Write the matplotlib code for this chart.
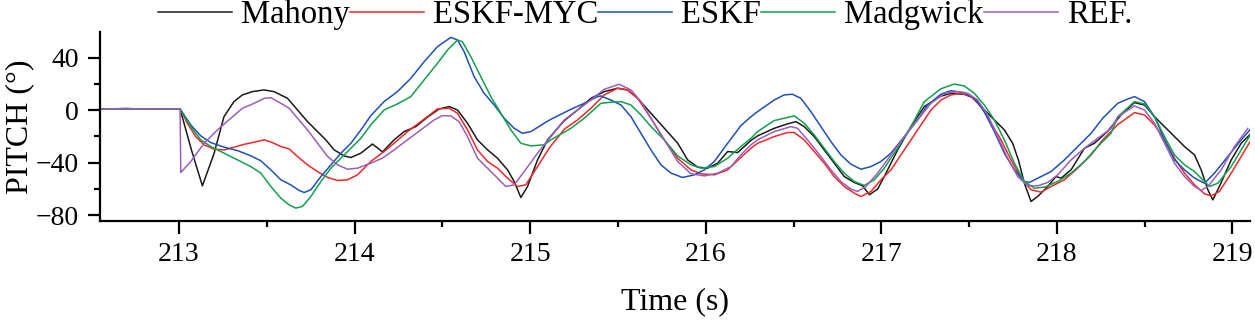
import matplotlib
matplotlib.use('Agg')
import matplotlib.pyplot as plt
from matplotlib.ticker import MultipleLocator

# flat start (all filters agree before the motion begins)
t_flat = [212.55, 212.7, 212.85, 213.0]
v_flat = [1.0, 1.2, 0.9, 1.0]

t_mahony = [213.006, 213.07, 213.133, 213.2, 213.256, 213.313, 213.361, 213.418, 213.484, 213.541,
            213.618, 213.675, 213.732, 213.789, 213.836, 213.883, 213.94, 213.978, 214.035, 214.102,
            214.159, 214.225, 214.282, 214.349, 214.415, 214.482, 214.539, 214.586, 214.643, 214.7,
            214.757, 214.814, 214.871, 214.909, 214.947, 214.985, 215.042, 215.099, 215.194, 215.27,
            215.346, 215.422, 215.498, 215.555, 215.612, 215.688, 215.764, 215.84, 215.897, 215.954,
            216.011, 216.068, 216.125, 216.182, 216.258, 216.295, 216.39, 216.466, 216.514, 216.561,
            216.618, 216.675, 216.732, 216.789, 216.846, 216.894, 216.932, 216.979, 217.027, 217.093,
            217.169, 217.245, 217.34, 217.397, 217.473, 217.53, 217.587, 217.644, 217.701, 217.748,
            217.781, 217.815, 217.853, 217.891, 217.948, 217.995, 218.024, 218.081, 218.157, 218.214,
            218.29, 218.366, 218.442, 218.499, 218.556, 218.613, 218.67, 218.727, 218.784, 218.822,
            218.86, 218.888, 218.926, 218.993, 219.05, 219.107]
v_mahony = [1.0, -30.0, -57.7, -32.8, -4.9, 6.6, 11.7, 14.2, 15.5, 14.2,
            9.1, 0.2, -8.7, -16.3, -22.6, -30.2, -34.8, -36.1, -32.8, -25.8,
            -31.8, -22.6, -16.3, -12.5, -5.3, 1.0, 2.8, 0.2, -9.9, -22.6,
            -30.2, -36.6, -45.5, -54.4, -66.6, -58.2, -37.9, -22.6, -8.0, 0.2,
            9.1, 14.2, 16.8, 15.5, 9.1, -2.3, -13.7, -25.1, -37.9, -43.4,
            -44.2, -40.4, -31.5, -32.3, -23.0, -19.6, -13.8, -10.4, -8.7, -12.5,
            -20.1, -30.3, -40.4, -50.6, -55.1, -57.7, -64.5, -60.2, -48.0, -30.3,
            -12.5, 2.8, 10.8, 12.9, 12.2, 9.1, 0.2, -7.4, -15.0, -25.2,
            -37.9, -55.7, -69.6, -65.8, -58.2, -50.6, -51.8, -45.5, -29.0, -25.2,
            -16.0, -3.5, 5.8, 4.0, -4.9, -12.5, -20.1, -27.7, -34.1, -45.5,
            -60.7, -68.4, -58.2, -37.9, -25.2, -17.6]

t_myc = [213.006, 213.048, 213.095, 213.143, 213.2, 213.257, 213.314, 213.371, 213.428, 213.485,
         213.532, 213.58, 213.627, 213.675, 213.732, 213.789, 213.846, 213.903, 213.96, 214.017,
         214.092, 214.168, 214.225, 214.301, 214.377, 214.472, 214.538, 214.586, 214.643, 214.7,
         214.757, 214.814, 214.871, 214.928, 214.975, 215.042, 215.108, 215.194, 215.27, 215.346,
         215.422, 215.498, 215.555, 215.612, 215.688, 215.764, 215.84, 215.916, 215.973, 216.049,
         216.125, 216.2, 216.258, 216.295, 216.39, 216.466, 216.504, 216.561, 216.618, 216.675,
         216.732, 216.789, 216.846, 216.884, 216.941, 216.998, 217.055, 217.131, 217.207, 217.283,
         217.34, 217.397, 217.454, 217.511, 217.568, 217.625, 217.682, 217.739, 217.796, 217.853,
         217.91, 217.967, 218.043, 218.119, 218.195, 218.262, 218.347, 218.442, 218.499, 218.556,
         218.613, 218.67, 218.727, 218.784, 218.841, 218.879, 218.926, 218.993, 219.05, 219.107]
v_myc = [1.0, -10.0, -20.1, -26.4, -29.7, -30.3, -28.2, -26.0, -24.4, -22.6,
         -24.7, -27.7, -29.5, -35.3, -41.7, -46.8, -51.3, -53.6, -53.1, -49.3,
         -39.1, -31.5, -25.2, -16.3, -8.7, 1.0, 1.5, -2.3, -15.0, -30.3,
         -39.1, -44.2, -51.8, -58.2, -56.9, -43.0, -29.0, -14.5, -7.4, 1.5,
         11.7, 16.8, 15.5, 9.1, -6.1, -22.6, -36.6, -45.5, -48.5, -49.3,
         -45.5, -36.0, -29.0, -25.2, -20.1, -17.0, -17.0, -22.6, -31.5, -40.4,
         -50.6, -58.2, -63.3, -65.8, -62.0, -53.1, -45.5, -30.3, -15.0, 0.2,
         7.8, 11.7, 12.9, 10.4, 2.8, -9.9, -22.6, -37.9, -51.8, -60.7,
         -62.5, -58.2, -53.1, -44.2, -34.1, -22.5, -11.0, -1.8, -3.6, -11.2,
         -22.6, -36.6, -48.0, -56.9, -63.8, -65.3, -62.0, -48.0, -35.3, -22.6]

t_eskf = [213.006, 213.067, 213.124, 213.181, 213.257, 213.333, 213.409, 213.466, 213.523, 213.58,
          213.637, 213.684, 213.713, 213.751, 213.808, 213.865, 213.922, 213.979, 214.036, 214.092,
          214.168, 214.244, 214.32, 214.396, 214.472, 214.548, 214.586, 214.624, 214.681, 214.738,
          214.795, 214.852, 214.909, 214.956, 215.004, 215.08, 215.118, 215.232, 215.308, 215.384,
          215.403, 215.46, 215.517, 215.574, 215.631, 215.688, 215.745, 215.802, 215.868, 215.935,
          215.992, 216.049, 216.125, 216.2, 216.258, 216.295, 216.39, 216.447, 216.494, 216.542,
          216.599, 216.656, 216.713, 216.77, 216.827, 216.884, 216.941, 216.998, 217.055, 217.131,
          217.207, 217.264, 217.34, 217.397, 217.473, 217.53, 217.587, 217.644, 217.701, 217.758,
          217.815, 217.843, 217.91, 217.967, 218.043, 218.119, 218.195, 218.262, 218.347, 218.404,
          218.442, 218.499, 218.556, 218.613, 218.67, 218.727, 218.784, 218.841, 218.898, 218.974,
          219.05, 219.107]
v_eskf = [1.0, -11.2, -19.6, -24.7, -28.2, -30.8, -34.8, -38.6, -45.5, -53.1,
          -57.0, -61.2, -62.8, -60.7, -50.6, -41.7, -32.8, -25.2, -15.0, -4.2,
          6.6, 14.2, 24.3, 37.0, 48.5, 55.6, 53.6, 44.7, 25.6, 12.9,
          4.0, -6.1, -13.8, -17.6, -16.3, -9.9, -6.9, 0.7, 5.3, 10.4,
          10.9, 7.8, 4.0, -4.9, -17.6, -30.3, -41.7, -48.0, -51.3, -49.3,
          -45.5, -39.1, -25.2, -11.8, -4.9, -1.1, 7.8, 11.7, 12.2, 9.1,
          -1.1, -12.5, -23.9, -34.1, -41.2, -45.0, -43.0, -39.1, -32.8, -20.1,
          -7.4, 4.0, 12.3, 14.9, 13.4, 9.1, -1.1, -16.3, -32.8, -45.5,
          -54.4, -55.1, -50.6, -46.8, -37.9, -27.7, -17.6, -6.0, 5.3, 8.6,
          10.4, 6.6, -4.9, -22.6, -37.9, -45.5, -51.8, -55.7, -48.0, -35.3,
          -22.6, -13.8]

t_madg = [213.006, 213.067, 213.124, 213.181, 213.257, 213.333, 213.409, 213.466, 213.523, 213.58,
          213.627, 213.665, 213.703, 213.751, 213.808, 213.865, 213.922, 213.979, 214.036, 214.092,
          214.168, 214.244, 214.32, 214.396, 214.472, 214.529, 214.586, 214.614, 214.662, 214.719,
          214.776, 214.833, 214.89, 214.947, 215.004, 215.08, 215.118, 215.232, 215.308, 215.403,
          215.46, 215.517, 215.574, 215.631, 215.688, 215.764, 215.84, 215.916, 215.973, 216.049,
          216.125, 216.2, 216.258, 216.295, 216.39, 216.447, 216.504, 216.561, 216.618, 216.675,
          216.732, 216.789, 216.846, 216.903, 216.96, 217.017, 217.093, 217.169, 217.245, 217.34,
          217.416, 217.473, 217.53, 217.587, 217.644, 217.701, 217.758, 217.815, 217.872, 217.929,
          218.005, 218.081, 218.157, 218.233, 218.309, 218.347, 218.442, 218.499, 218.556, 218.613,
          218.67, 218.727, 218.784, 218.841, 218.869, 218.917, 218.993, 219.05, 219.107]
v_madg = [1.0, -12.5, -22.6, -27.7, -32.8, -37.9, -43.0, -48.0, -58.2, -67.1,
          -72.2, -74.7, -73.4, -65.8, -54.4, -44.2, -36.6, -29.0, -21.4, -11.2,
          0.2, 4.8, 10.4, 23.1, 35.8, 45.9, 53.6, 52.3, 40.9, 25.6,
          10.4, -2.3, -15.0, -25.2, -27.2, -26.4, -22.6, -13.8, -6.1, 5.3,
          6.1, 6.6, 4.0, -3.6, -12.5, -22.6, -34.8, -41.7, -44.2, -43.0,
          -36.6, -27.7, -21.4, -16.3, -7.9, -6.1, -4.3, -9.9, -18.8, -29.0,
          -39.1, -48.0, -54.4, -57.4, -53.1, -44.2, -29.0, -12.5, 6.6, 16.4,
          20.0, 18.5, 12.9, 4.0, -7.4, -22.6, -40.4, -54.4, -59.5, -58.7,
          -54.4, -48.0, -39.1, -27.7, -17.5, -5.0, 6.6, 4.8, -4.9, -20.1,
          -34.1, -41.7, -46.8, -54.4, -58.2, -55.7, -43.0, -30.3, -17.6]

t_ref = [213.006, 213.01, 213.067, 213.143, 213.219, 213.295, 213.361, 213.428, 213.485, 213.523,
         213.58, 213.627, 213.675, 213.732, 213.789, 213.846, 213.903, 213.96, 214.017, 214.092,
         214.158, 214.225, 214.301, 214.377, 214.453, 214.5, 214.548, 214.595, 214.643, 214.7,
         214.757, 214.814, 214.861, 214.909, 214.966, 215.042, 215.118, 215.194, 215.27, 215.346,
         215.422, 215.507, 215.574, 215.631, 215.688, 215.764, 215.84, 215.916, 215.992, 216.068,
         216.144, 216.2, 216.258, 216.295, 216.39, 216.485, 216.523, 216.58, 216.656, 216.713,
         216.77, 216.827, 216.865, 216.913, 216.979, 217.055, 217.131, 217.207, 217.283, 217.359,
         217.435, 217.492, 217.549, 217.606, 217.663, 217.72, 217.777, 217.834, 217.891, 217.948,
         218.005, 218.081, 218.157, 218.233, 218.309, 218.347, 218.442, 218.499, 218.556, 218.613,
         218.67, 218.727, 218.784, 218.822, 218.86, 218.936, 219.012, 219.088]
v_ref = [1.0, -47.5, -39.1, -25.2, -15.0, -6.1, 1.5, 5.3, 9.1, 9.6,
         5.3, 1.5, -6.1, -15.0, -25.2, -35.3, -41.7, -45.0, -44.2, -40.4,
         -36.6, -30.3, -22.6, -15.0, -7.4, -4.1, -4.3, -8.7, -20.1, -36.6,
         -44.2, -51.8, -58.2, -56.9, -46.8, -32.8, -20.1, -7.4, 0.2, 7.8,
         16.0, 19.8, 15.5, 6.6, -6.1, -22.6, -39.1, -48.5, -50.1, -48.0,
         -43.0, -34.0, -26.4, -22.6, -16.3, -12.5, -13.8, -22.6, -35.3, -45.5,
         -54.4, -60.2, -62.0, -58.2, -48.0, -34.1, -20.1, -7.4, 5.3, 12.9,
         14.2, 12.9, 7.8, -3.6, -20.1, -36.6, -50.6, -57.7, -57.7, -55.1,
         -49.3, -37.9, -29.0, -21.4, -13.8, -5.0, 3.3, 0.2, -9.9, -25.2,
         -40.4, -50.6, -58.2, -61.2, -58.2, -45.5, -27.7, -13.8]

labels = ['Mahony', 'ESKF-MYC', 'ESKF', 'Madgwick', 'REF.']
colors = ['#1a1a1a', '#f02828', '#1f50b4', '#12a050', '#9b5fba']

if __name__ == '__main__':
    plt.rcParams['font.family'] = ['Liberation Serif', 'DejaVu Serif']

    fig = plt.figure(figsize=(12.55, 3.22), dpi=100)
    ax = fig.add_axes([0.0797, 0.3146, 0.9163, 0.586])

    series = [(t_mahony, v_mahony), (t_myc, v_myc), (t_eskf, v_eskf), (t_madg, v_madg), (t_ref, v_ref)]
    for (t, v), lab, c in zip(series, labels, colors):
        ax.plot(t_flat + t, v_flat + v, color=c, lw=1.1, label=lab)

    ax.set_xlim(212.55, 219.1)
    ax.set_ylim(-84.3, 59.7)
    ax.xaxis.set_major_locator(MultipleLocator(1))
    ax.xaxis.set_minor_locator(MultipleLocator(0.5))
    ax.yaxis.set_major_locator(MultipleLocator(40))
    ax.yaxis.set_minor_locator(MultipleLocator(20))
    ax.spines['top'].set_visible(False)
    ax.spines['right'].set_visible(False)
    for s in ['left', 'bottom']:
        ax.spines[s].set_linewidth(1.6)
    ax.tick_params(which='major', direction='out', length=9, width=1.6, labelsize=20, pad=6)
    ax.tick_params(which='minor', direction='out', length=4.5, width=1.6)
    ax.set_xlabel('Time (s)', fontsize=23, labelpad=15)
    ax.set_ylabel('PITCH (°)', fontsize=23, labelpad=1)

    fig.legend(loc='center', bbox_to_anchor=(0.514, 0.955), ncol=5, frameon=False, fontsize=23.5,
               handlelength=2.27, handletextpad=0.28, columnspacing=0.0, borderaxespad=0, borderpad=0)

    fig.savefig('out.png', dpi=100)
